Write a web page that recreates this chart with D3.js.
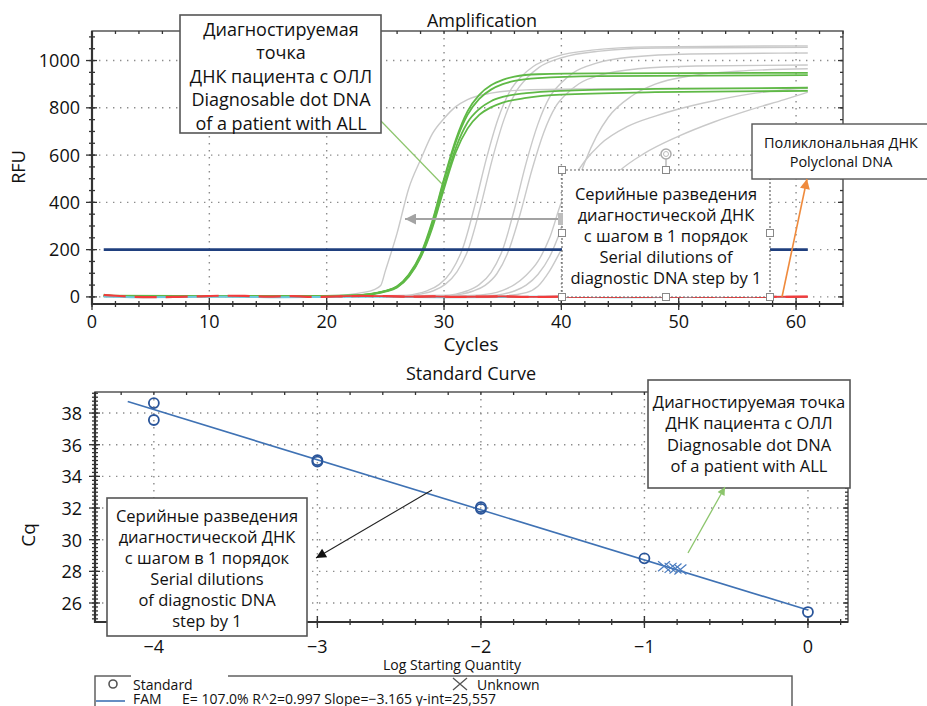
<!DOCTYPE html>
<html>
<head>
<meta charset="utf-8">
<script src="https://cdn.jsdelivr.net/npm/d3@7"></script>
<style>
  html, body { margin: 0; padding: 0; background: #fff; }
  svg { display: block; }
</style>
</head>
<body>
<svg id="chart" width="927" height="706"></svg>
<script>
/* ---------- Amplification data: [cycle, RFU] ---------- */
var ampXTicks = [0, 10, 20, 30, 40, 50, 60];
var ampYTicks = [0, 200, 400, 600, 800, 1000];
var threshold = 200;
var thresholdCycles = [1, 61];

var grayRuns = [
    [[1,3],[18,4],[21,6],[22,10],[23,18],[24,30],[24.6,48],[25,110],[26,270],[27,460],[28,580],[29,690],[30,755],[31,805],[32,835],[34,862],[37,876],[42,880],[50,882],[61,881]],
    [[1,2],[20,3],[26.6,6],[27.6,13],[28.6,27],[29.6,53],[30.6,106],[31.6,207],[32.6,382],[33.6,583],[34.6,753],[35.6,869],[36.6,933],[37.6,975],[39.6,1018],[42.6,1044],[47.6,1058],[61,1062]],
    [[1,3],[20,2],[27.1,6],[28.1,13],[29.1,26],[30.1,53],[31.1,106],[32.1,206],[33.1,380],[34.1,580],[35.1,749],[36.1,865],[37.1,928],[38.1,971],[40.1,1013],[43.1,1039],[48.1,1053],[61,1056]],
    [[1,2],[20,2],[30,6],[31,12],[32,26],[33,52],[34,103],[35,201],[36,371],[37,567],[38,731],[39,845],[40,906],[41,948],[43,989],[46,1015],[51,1028],[61,1032]],
    [[1,3],[20,3],[30.5,6],[31.5,12],[32.5,25],[33.5,49],[34.5,98],[35.5,195],[36.5,353],[37.5,539],[38.5,696],[39.5,804],[40.5,862],[41.5,902],[43.5,941],[46.5,965],[51.5,977],[61,981]],
    [[1,2],[20,2],[34,6],[35,12],[36,25],[37,50],[38,95],[39,170],[40,290],[41,430],[42,570],[43,680],[44,760],[46,850],[48,900],[51,935],[55,955],[61,965]],
    [[1,3],[20,3],[32,5],[34,14],[35,28],[36,52],[37,92],[38,150],[39,250],[40,400],[41,500],[42,575],[43.3,645],[45.6,720],[48,765],[50,795],[53,830],[56,858],[59,876],[61,886]],
    [[1,2],[20,2],[35,5],[37,18],[38,45],[39,110],[40,200],[41,290],[42,365],[43,430],[44,485],[45,535],[47,605],[50,680],[53,740],[56,790],[59,835],[61,866]]
];

var greenRuns = [
    [[1,10],[2,4],[20,4],[22,6],[23,9],[24,15],[25,26],[26,45],[27,95],[28,180],[29,320],[30,500],[31,665],[32,785],[33,855],[34,895],[35,918],[36,932],[38,942],[43,946],[61,948]],
    [[1,5],[20,3],[22,5],[24,14],[25,25],[26,44],[27,92],[28,175],[29,312],[30,492],[31,655],[32,770],[33,838],[34,877],[35,900],[36,914],[38,926],[43,934],[61,938]],
    [[1,4],[20,3],[22,5],[24,14],[25,24],[26,42],[27,88],[28,170],[29,300],[30,470],[31,630],[32,738],[33,795],[34,828],[35,846],[37,862],[40,872],[48,880],[61,885]],
    [[1,3],[20,2],[22,4],[24,12],[25,22],[26,40],[27,85],[28,166],[29,292],[30,458],[31,612],[32,712],[33,770],[34,802],[35,822],[37,842],[40,856],[48,866],[61,872]]
];

var redBase = [[1,8],[2,5],[3,2],[5,-1],[7,0],[9,2],[11,5],[13,4],[15,1],[17,3],[19,0],[21,2],[23,4],[25,3],[27,1],[29,2],[31,0],[33,1],[35,2],[37,0],[40,1],[45,0],[50,1],[55,0],[61,1]];
var cyanBase = [[1,2],[4,-1],[8,0],[12,1],[16,-1],[20,0],[25,1],[30,-1],[35,0],[40,1],[45,-1],[50,0],[55,1],[61,0]];

/* ---------- Standard curve data ---------- */
var stdXTicks = [-4, -3, -2, -1, 0];
var stdYTicks = [26, 28, 30, 32, 34, 36, 38];
var stdLogQ = [-4, -4, -3, -3, -2, -2, -1, 0];
var stdCq = [38.63, 37.56, 35.02, 34.93, 32.06, 31.95, 28.82, 25.43];
var unkLogQ = [-0.88, -0.84, -0.81, -0.78];
var unkCq = [28.32, 28.22, 28.18, 28.12];
var fitSlope = -3.165;
var fitIntercept = 25.557;
var fitRange = [-4.16, 0];
var legendStats = "E= 107.0% R^2=0.997 Slope=\u22123.165 y-int=25,557";

var FONT = '"Open Sans", "Noto Sans", sans-serif';
var svg = d3.select("#chart").style("font-family", FONT);

var defs = svg.append("defs");
function marker(id, color, w, h) {
    defs.append("marker")
        .attr("id", id)
        .attr("markerUnits", "userSpaceOnUse")
        .attr("viewBox", "0 0 10 10")
        .attr("refX", 10).attr("refY", 5)
        .attr("markerWidth", w).attr("markerHeight", h)
        .attr("orient", "auto")
        .append("path").attr("d", "M0,0L10,5L0,10Z").attr("fill", color);
}
marker("mGray", "#a3a3a3", 13, 11);
marker("mOrange", "#ef8a3c", 13, 10);
marker("mBlack", "#111", 14, 10);
marker("mGreen", "#8cc56c", 10, 8);

/* frame, grid and crossing ticks */
function drawFrame(x, y, xMajor, xMinor, yMajor, yMinor) {
    var x0 = x.range()[0], x1 = x.range()[1], y0 = y.range()[0], y1 = y.range()[1];
    var g = svg.append("g");
    var dot = "1.4,5.6";

    g.selectAll(".vg").data(xMajor).enter().append("line")
        .attr("x1", function(d) { return x(d); }).attr("x2", function(d) { return x(d); })
        .attr("y1", y1).attr("y2", y0)
        .attr("stroke", "#8c8c8c").attr("stroke-width", 1.4).attr("stroke-dasharray", dot);
    g.selectAll(".hg").data(yMajor).enter().append("line")
        .attr("x1", x0).attr("x2", x1)
        .attr("y1", function(d) { return y(d); }).attr("y2", function(d) { return y(d); })
        .attr("stroke", "#8c8c8c").attr("stroke-width", 1.4).attr("stroke-dasharray", dot);

    g.append("rect").attr("x", x0).attr("y", y1).attr("width", x1 - x0).attr("height", y0 - y1)
        .attr("fill", "none").attr("stroke", "#555").attr("stroke-width", 1.5);
    g.append("line").attr("x1", x0).attr("x2", x0).attr("y1", y1).attr("y2", y0 + 1)
        .attr("stroke", "#333").attr("stroke-width", 2.2);
    g.append("line").attr("x1", x0 - 1).attr("x2", x1).attr("y1", y0).attr("y2", y0)
        .attr("stroke", "#333").attr("stroke-width", 2.2);

    function ticks(data, f) {
        g.append("g").selectAll("line").data(data).enter().append("line").each(f)
            .attr("stroke", "#333").attr("stroke-width", 1.3);
    }
    ticks(yMinor, function(d) { d3.select(this).attr("x1", x0 - 3).attr("x2", x0 + 3).attr("y1", y(d)).attr("y2", y(d)); });
    ticks(yMajor, function(d) { d3.select(this).attr("x1", x0 - 6).attr("x2", x0 + 5).attr("y1", y(d)).attr("y2", y(d)); });
    ticks(xMinor, function(d) { d3.select(this).attr("x1", x(d)).attr("x2", x(d)).attr("y1", y0 - 3).attr("y2", y0 + 3); });
    ticks(xMajor, function(d) { d3.select(this).attr("x1", x(d)).attr("x2", x(d)).attr("y1", y0 - 6).attr("y2", y0 + 6); });
    ticks(xMinor, function(d) { d3.select(this).attr("x1", x(d)).attr("x2", x(d)).attr("y1", y1).attr("y2", y1 + 3); });
    ticks(yMinor, function(d) { d3.select(this).attr("x1", x1 - 3).attr("x2", x1).attr("y1", y(d)).attr("y2", y(d)); });
    ticks(yMajor, function(d) { d3.select(this).attr("x1", x1 - 5).attr("x2", x1).attr("y1", y(d)).attr("y2", y(d)); });
    return g;
}

function label(txt, x, y, size, anchor) {
    return svg.append("text").attr("x", x).attr("y", y)
        .attr("font-size", size).attr("text-anchor", anchor || "middle")
        .attr("fill", "#111").text(txt);
}

function callout(x, y, w, h, lines, cx, firstBase, step, size, opts) {
    opts = opts || {};
    var g = svg.append("g");
    g.append("rect").attr("x", x).attr("y", y).attr("width", w).attr("height", h)
        .attr("fill", "#fff")
        .attr("stroke", opts.stroke || "#555")
        .attr("stroke-width", opts.width || 1.6)
        .attr("stroke-dasharray", opts.dash || null);
    g.selectAll("text").data(lines).enter().append("text")
        .attr("x", cx)
        .attr("y", function(d, i) { return firstBase + i * step; })
        .attr("text-anchor", "middle")
        .attr("font-size", size)
        .attr("fill", "#111")
        .text(function(d) { return d; });
    return g;
}

/* ================= Amplification ================= */
var ax = d3.scaleLinear().domain([0, 64]).range([92, 843]);
var ay = d3.scaleLinear().domain([-30, 1125]).range([304, 31]);

drawFrame(ax, ay, ampXTicks, d3.range(0, 65, 2), ampYTicks, d3.range(0, 1101, 50));

ampYTicks.forEach(function(v) { label(v, 80, ay(v) + 6.5, 18, "end"); });
ampXTicks.forEach(function(v) { label(v, ax(v), 328, 18); });
label("Amplification", 482, 27, 18);
label("Cycles", 471, 351, 19);
svg.append("text").attr("transform", "translate(25,167) rotate(-90)")
    .attr("text-anchor", "middle").attr("font-size", 18).attr("fill", "#111").text("RFU");

var ampLine = d3.line()
    .x(function(d) { return ax(d[0]); })
    .y(function(d) { return ay(d[1]); })
    .curve(d3.curveMonotoneX);

var plot1 = svg.append("g");
plot1.selectAll(".gray").data(grayRuns).enter().append("path")
    .attr("d", ampLine).attr("fill", "none")
    .attr("stroke", "#c9c9c9").attr("stroke-width", 1.4);
plot1.selectAll(".green").data(greenRuns).enter().append("path")
    .attr("d", ampLine).attr("fill", "none")
    .attr("stroke", "#5fb946").attr("stroke-width", 1.8);
plot1.append("path").attr("d", ampLine(cyanBase)).attr("fill", "none")
    .attr("stroke", "#6cc9dc").attr("stroke-width", 2);
plot1.append("path").attr("d", ampLine(redBase)).attr("fill", "none")
    .attr("stroke", "#f23c3c").attr("stroke-width", 2.2).attr("stroke-dasharray", "22,9");
plot1.append("path").attr("d", ampLine(redBase.filter(function(d) { return d[0] >= 20; })))
    .attr("fill", "none").attr("stroke", "#f23c3c").attr("stroke-width", 1.8);
plot1.append("line")
    .attr("x1", ax(thresholdCycles[0])).attr("x2", ax(thresholdCycles[1]))
    .attr("y1", ay(threshold)).attr("y2", ay(threshold))
    .attr("stroke", "#1f3f7e").attr("stroke-width", 2.6);

/* callouts on the amplification plot */
svg.append("line").attr("x1", 381).attr("y1", 121).attr("x2", 442).attr("y2", 184)
    .attr("stroke", "#8cc56c").attr("stroke-width", 1.2);
callout(180, 15, 201, 118,
    ["Диагностируемая", "точка", "ДНК пациента с ОЛЛ", "Diagnosable dot DNA", "of a patient with ALL"],
    281, 35.5, 23.5, 18);

svg.append("line").attr("x1", 562).attr("y1", 219).attr("x2", 405).attr("y2", 219)
    .attr("stroke", "#a3a3a3").attr("stroke-width", 2).attr("marker-end", "url(#mGray)");

callout(562, 170, 208, 127,
    ["Серийные разведения", "диагностической ДНК", "с шагом в 1 порядок", "Serial dilutions of", "diagnostic DNA step by 1"],
    666, 200, 21, 16.5, { stroke: "#666", width: 1.2, dash: "2,2" });

/* selection handles of the dotted box */
svg.append("line").attr("x1", 666).attr("y1", 158).attr("x2", 666).attr("y2", 170)
    .attr("stroke", "#999").attr("stroke-width", 1);
svg.append("circle").attr("cx", 666).attr("cy", 154).attr("r", 5)
    .attr("fill", "#fff").attr("stroke", "#aaa").attr("stroke-width", 1.5);
svg.append("circle").attr("cx", 666).attr("cy", 154).attr("r", 2.5)
    .attr("fill", "none").attr("stroke", "#bbb").attr("stroke-width", 1);
svg.append("rect").attr("x", 558).attr("y", 213).attr("width", 5).attr("height", 12).attr("fill", "#bdbdbd");
[[562,170],[666,170],[562,233],[770,233],[562,297],[666,297],[770,297]].forEach(function(p) {
    svg.append("rect").attr("x", p[0] - 3.5).attr("y", p[1] - 3.5).attr("width", 7).attr("height", 7)
        .attr("fill", "#fff").attr("stroke", "#888").attr("stroke-width", 1);
});

callout(752, 124, 190, 55, ["Поликлональная ДНК", "Polyclonal DNA"], 841, 148, 19, 14.5, { width: 1.4 });
svg.append("line").attr("x1", 782).attr("y1", 297).attr("x2", 807).attr("y2", 179)
    .attr("stroke", "#ef8a3c").attr("stroke-width", 1.6).attr("marker-end", "url(#mOrange)");

/* ================= Standard Curve ================= */
var sx = d3.scaleLinear().domain([-4.36, 0.245]).range([95, 848]);
var sy = d3.scaleLinear().domain([24.8, 39.33]).range([622, 392]);

drawFrame(sx, sy, stdXTicks, d3.range(-4.2, 0.25, 0.2), stdYTicks, d3.range(25, 39.3, 0.25));

stdYTicks.forEach(function(v) { label(v, 82, sy(v) + 7, 18, "end"); });
stdXTicks.forEach(function(v) { label(v < 0 ? "\u2212" + Math.abs(v) : v, sx(v), 653, 18); });
label("Standard Curve", 471, 380, 18);
label("Log Starting Quantity", 452, 670, 14);
svg.append("text").attr("transform", "translate(35,535) rotate(-90)")
    .attr("text-anchor", "middle").attr("font-size", 19).attr("fill", "#111").text("Cq");

var plot2 = svg.append("g");
plot2.append("line")
    .attr("x1", sx(fitRange[0])).attr("y1", sy(fitIntercept + fitSlope * fitRange[0]))
    .attr("x2", sx(fitRange[1])).attr("y2", sy(fitIntercept + fitSlope * fitRange[1]))
    .attr("stroke", "#3f72b4").attr("stroke-width", 1.6);
plot2.selectAll(".std").data(d3.range(stdLogQ.length)).enter().append("circle")
    .attr("cx", function(i) { return sx(stdLogQ[i]); })
    .attr("cy", function(i) { return sy(stdCq[i]); })
    .attr("r", 5).attr("fill", "none").attr("stroke", "#2a559a").attr("stroke-width", 1.8);
plot2.selectAll(".unk").data(d3.range(unkLogQ.length)).enter().append("path")
    .attr("transform", function(i) { return "translate(" + sx(unkLogQ[i]) + "," + sy(unkCq[i]) + ")"; })
    .attr("d", "M-6,-5L6,5M-6,5L6,-5")
    .attr("stroke", "#4a7cc0").attr("stroke-width", 1.2);

/* callouts on the standard curve */
callout(648, 380, 202, 108,
    ["Диагностируемая точка", "ДНК пациента с ОЛЛ", "Diagnosable dot DNA", "of a patient with ALL"],
    749, 408, 21.3, 16.5);
svg.append("line").attr("x1", 688).attr("y1", 553).attr("x2", 725).attr("y2", 487)
    .attr("stroke", "#8cc56c").attr("stroke-width", 1.3).attr("marker-end", "url(#mGreen)");

callout(107, 498, 200, 138,
    ["Серийные разведения", "диагностической ДНК", "с шагом в 1 порядок", "Serial dilutions", "of diagnostic DNA", "step by 1"],
    207, 522, 21, 16.5);
svg.append("line").attr("x1", 432).attr("y1", 490).attr("x2", 316).attr("y2", 558)
    .attr("stroke", "#222").attr("stroke-width", 1.1).attr("marker-end", "url(#mBlack)");

/* legend */
var lg = svg.append("g");
lg.append("rect").attr("x", 95).attr("y", 676).attr("width", 697).attr("height", 40)
    .attr("fill", "#fff").attr("stroke", "#555").attr("stroke-width", 1.4);
lg.append("rect").attr("x", 131).attr("y", 671).attr("width", 97).attr("height", 20).attr("fill", "#fff");
lg.append("circle").attr("cx", 113).attr("cy", 684).attr("r", 4)
    .attr("fill", "none").attr("stroke", "#555").attr("stroke-width", 1.6);
lg.append("text").attr("x", 133).attr("y", 690).attr("font-size", 14).attr("fill", "#111").text("Standard");
lg.append("path").attr("transform", "translate(460,684)").attr("d", "M-7,-6L7,6M-7,6L7,-6")
    .attr("stroke", "#555").attr("stroke-width", 1.3);
lg.append("text").attr("x", 477).attr("y", 690).attr("font-size", 14).attr("fill", "#111").text("Unknown");
lg.append("line").attr("x1", 96).attr("x2", 125).attr("y1", 701).attr("y2", 701)
    .attr("stroke", "#3f72b4").attr("stroke-width", 1.6);
lg.append("text").attr("x", 133).attr("y", 704).attr("font-size", 14).attr("fill", "#111").text("FAM");
lg.append("text").attr("x", 182).attr("y", 704).attr("font-size", 14).attr("fill", "#111").text(legendStats);
</script>
</body>
</html>
